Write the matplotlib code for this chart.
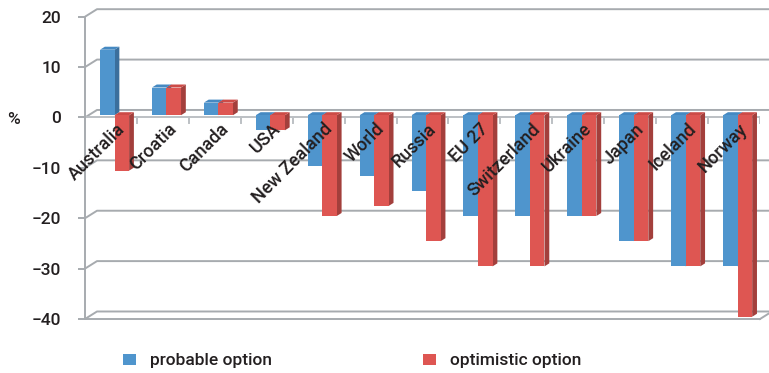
import matplotlib
matplotlib.use("Agg")
import matplotlib.pyplot as plt
from matplotlib.patches import Polygon

plt.rcParams['font.family'] = ['Roboto', 'DejaVu Sans']
plt.rcParams['font.weight'] = 500

countries = ["Australia", "Croatia", "Canada", "USA", "New Zealand", "World",
             "Russia", "EU 27", "Switzerland", "Ukraine", "Japan", "Iceland", "Norway"]
probable = [13, 5.5, 2.5, -3, -10, -12, -15, -20, -20, -20, -25, -30, -30]
optimistic = [-11, 5.5, 2.5, -3, -20, -18, -25, -30, -30, -20, -25, -30, -40]
y_ticks = [-40, -30, -20, -10, 0, 10, 20]
y_tick_labels = ["\u221240", "\u221230", "\u221220", "\u221210", "0", "10", "20"]

W, H = 769, 373
fig = plt.figure(figsize=(W / 100, H / 100), dpi=100)
ax = fig.add_axes([85 / W, 1 - 319 / H, 675 / W, (319 - 16.7) / H])
n = len(countries)
ax.set_xlim(-0.5, n - 0.5)
ax.set_ylim(-40, 20)

grid_c = "#a7abaf"
text_c = "#231f20"

# depth of the pseudo-3D box (data units) and bar placement inside it
DX, DY = 0.231, 1.49
fd, bd = 0.3, 0.7
bw = 0.28

# back wall, side wall and floor edges
for v in y_ticks:
    ax.plot([-0.5, -0.5 + DX, n - 0.5 + DX], [v, v + DY, v + DY],
            color=grid_c, lw=1.4, clip_on=False, zorder=1, solid_capstyle='butt')
ax.plot([n - 0.5, n - 0.5 + DX], [-40, -40 + DY], color=grid_c, lw=1.4,
        clip_on=False, zorder=1)

# front horizontal axis at zero with category boundary ticks
ax.plot([-0.5, n - 0.5], [0, 0], color="#bcc0c4", lw=1.4, zorder=1.5)
for b in range(n):
    ax.plot([b + 0.5, b + 0.5], [0, -1.0], color="#bcc0c4", lw=1.4, zorder=1.5)

series = [
    (probable, -bw / 2, "#4f95cd", "#3b6f9c", "#4589c2", "probable option"),
    (optimistic, bw / 2, "#de5652", "#a33f3c", "#cc4b47", "optimistic option"),
]

handles = []
for i in range(n):
    for vals, off, c_front, c_side, c_top, lab in series:
        v = vals[i]
        x0 = i + off - bw / 2
        x1 = x0 + bw
        lo, hi = min(0, v), max(0, v)
        # right side face
        ax.add_patch(Polygon([(x1 + fd * DX, lo + fd * DY), (x1 + bd * DX, lo + bd * DY),
                              (x1 + bd * DX, hi + bd * DY), (x1 + fd * DX, hi + fd * DY)],
                             closed=True, facecolor=c_side, edgecolor='none', zorder=2))
        # top face
        ax.add_patch(Polygon([(x0 + fd * DX, hi + fd * DY), (x1 + fd * DX, hi + fd * DY),
                              (x1 + bd * DX, hi + bd * DY), (x0 + bd * DX, hi + bd * DY)],
                             closed=True, facecolor=c_top, edgecolor='none', zorder=2))
        # front face
        bars = ax.bar(i + off + fd * DX, v, bw, bottom=fd * DY, color=c_front,
                      edgecolor='none', zorder=2.1, label=lab if i == 0 else None)
        if i == 0:
            handles.append(bars)

# category labels
for i, name in enumerate(countries):
    ax.text(i + 0.09, -0.5, name, rotation=45, rotation_mode='anchor',
            ha='right', va='top', fontsize=13, color=text_c, zorder=5)

# y axis
ax.set_xticks([])
ax.set_yticks(y_ticks)
ax.set_yticklabels(y_tick_labels, fontsize=12.5, color=text_c)
ax.tick_params(axis='y', direction='out', length=5, width=1.4, color=grid_c, pad=12)
for s in ("top", "right"):
    ax.spines[s].set_visible(False)
for s in ("left", "bottom"):
    ax.spines[s].set_color(grid_c)
    ax.spines[s].set_linewidth(1.4)
ax.patch.set_visible(False)

fig.text(14 / W, 1 - 120 / H, "%", ha='center', va='center', fontsize=12.5, color=text_c)

leg = fig.legend(handles=handles, loc='center left', bbox_to_anchor=(123 / W, 1 - 361 / H),
                 ncol=2, frameon=False, fontsize=12.5, handlelength=0.75, handleheight=0.55,
                 handletextpad=0.8, columnspacing=8.7, borderpad=0, borderaxespad=0)
for t in leg.get_texts():
    t.set_color(text_c)

fig.savefig("out.png", dpi=100)
